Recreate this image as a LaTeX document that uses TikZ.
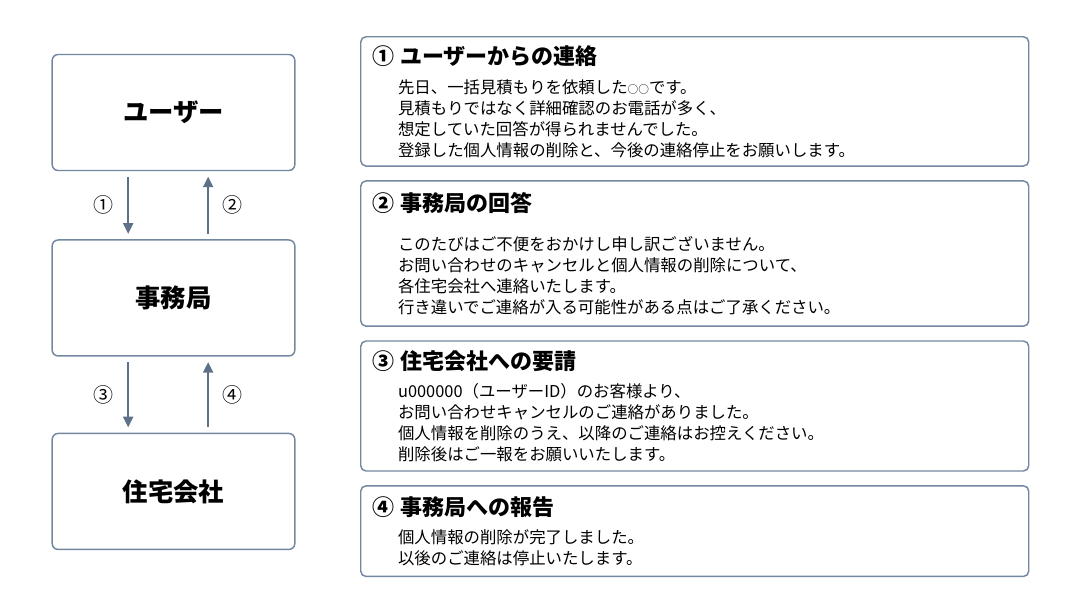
\documentclass[tikz,border=0pt]{standalone}
\usepackage{fontspec}
\setmainfont{Noto Sans CJK JP}
\usetikzlibrary{positioning,arrows.meta}
\definecolor{boxline}{HTML}{7388A0}
\definecolor{flowline}{HTML}{5D7189}
\newcommand{\titlefont}{\fontsize{16.5}{19}\selectfont\bfseries}
\newcommand{\msgtitle}[2][6pt]{{\titlefont #2\par}\vspace{#1}}
\newcommand{\msgbody}[1]{{\leftskip=19pt #1\par}}
\newcommand{\blank}{{\fontsize{8}{8}\selectfont ○○}}

\begin{document}
\begin{tikzpicture}[
    x=0.75pt, y=-0.75pt, % <-- PIXEL GRID OF THE PAGE
    node distance=10pt,
    party/.style={draw=boxline, line width=1.1pt, rounded corners=4.5pt, fill=white, minimum width=182pt, minimum height=87pt, font=\fontsize{19}{23}\selectfont\bfseries},
    msgbox/.style={draw=boxline, line width=1.1pt, rounded corners=4pt, fill=white, text width=483pt, inner xsep=9pt, inner ysep=0pt, align=left, font=\fontsize{12.3}{15.75}\selectfont},
    flow/.style={->, draw=flowline, line width=1.5pt, shorten <=4pt, shorten >=4pt},
    num/.style={font=\fontsize{15}{17}\selectfont},
    >={Triangle[length=8pt,width=7.5pt]}
  ]
  \useasboundingbox (0,0) rectangle (1080,608);

  % Parties on the left
  \node[party] (user) at (173.5,112.5) {ユーザー};
  \node[party, below=51pt of user] (office) {事務局};
  \node[party, below=57pt of office] (house) {住宅会社};

  % Messages on the right
  \node[msgbox, anchor=north west, minimum height=97pt] (msg1) at (360,36) {
    \msgtitle{① ユーザーからの連絡}
    \msgbody{先日、一括見積もりを依頼した\blank です。\\
      見積もりではなく詳細確認のお電話が多く、\\
      想定していた回答が得られませんでした。\\
      登録した個人情報の削除と、今後の連絡停止をお願いします。}};

  \node[msgbox, below=of msg1, minimum height=109pt] (msg2) {
    \msgtitle[13pt]{② 事務局の回答}
    \msgbody{このたびはご不便をおかけし申し訳ございません。\\
      お問い合わせのキャンセルと個人情報の削除について、\\
      各住宅会社へ連絡いたします。\\
      行き違いでご連絡が入る可能性がある点はご了承ください。}};

  \node[msgbox, below=of msg2, minimum height=97.5pt] (msg3) {
    \msgtitle[5pt]{③ 住宅会社への要請}
    \msgbody{u000000（ユーザーID）のお客様より、\\
      お問い合わせキャンセルのご連絡がありました。\\
      個人情報を削除のうえ、以降のご連絡はお控えください。\\
      削除後はご一報をお願いいたします。}};

  \node[msgbox, below=of msg3, minimum height=68pt] (msg4) {
    \msgtitle[5.5pt]{④ 事務局への報告}
    \msgbody{個人情報の削除が完了しました。\\
      以後のご連絡は停止いたします。}};

  % Arrows
  \draw[flow] ([xshift=-34pt]user.south) -- node[left=7pt, num]{①} ([xshift=-34pt]office.north);
  \draw[flow] ([xshift=26pt]office.north) -- node[right=7pt, num]{②} ([xshift=26pt]user.south);
  \draw[flow] ([xshift=-34pt]office.south) -- node[left=7pt, num]{③} ([xshift=-34pt]house.north);
  \draw[flow] ([xshift=26pt]house.north) -- node[right=7pt, num]{④} ([xshift=26pt]office.south);

\end{tikzpicture}
\end{document}
